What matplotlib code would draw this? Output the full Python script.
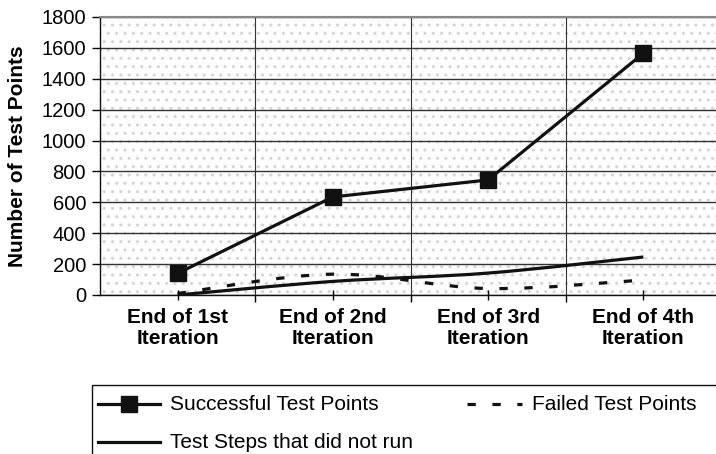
import matplotlib
matplotlib.use("Agg")
import matplotlib.pyplot as plt
import numpy as np
from matplotlib.lines import Line2D
from matplotlib.patches import PathPatch, Rectangle
from matplotlib.path import Path

plt.rcParams["font.family"] = ["Liberation Sans", "DejaVu Sans"]
plt.rcParams["hatch.linewidth"] = 1.0

# ------------------------------------------------------------------ data
categories = ["End of 1st\nIteration", "End of 2nd\nIteration",
              "End of 3rd\nIteration", "End of 4th\nIteration"]
successful = [140, 635, 745, 1565]
failed = [10, 135, 42, 97]
not_run = [0, 88, 142, 246]
y_ticks = list(range(0, 1801, 200))
series_names = ["Successful Test Points", "Failed Test Points",
                "Test Steps that did not run"]

INK = "#111111"
W, H = 716, 454


def smooth_path(xs, ys):
    # Catmull-Rom style cubic Bezier through the data points (Excel "smoothed line")
    pts = np.column_stack([xs, ys]).astype(float)
    n = len(pts)
    verts, codes = [pts[0]], [Path.MOVETO]
    for i in range(n - 1):
        p0, p1 = pts[max(i - 1, 0)], pts[i]
        p2, p3 = pts[i + 1], pts[min(i + 2, n - 1)]
        verts += [p1 + (p2 - p0) / 6, p2 - (p3 - p1) / 6, p2]
        codes += [Path.CURVE4] * 3
    return Path(verts, codes)


def fig_xy(px, py):
    return px / W, 1 - py / H


fig = plt.figure(figsize=(W / 100, H / 100), dpi=100)
ax = fig.add_axes([100 / W, 1 - 295 / H, 621 / W, 278 / H])

# dotted plot-area background
ax.add_patch(Rectangle((0, 0), 1, 1, transform=ax.transAxes, facecolor="#fdfdfd",
                       edgecolor="#d4d4d4", hatch="..", lw=0, zorder=0))

x = np.arange(len(categories))
ax.plot(x, successful, color=INK, lw=2.3, marker="s", ms=12, zorder=4)
ax.add_patch(PathPatch(smooth_path(x, not_run), fill=False, ec=INK, lw=2.3,
                       zorder=3))
ax.add_patch(PathPatch(smooth_path(x, failed), fill=False, ec=INK, lw=2.3,
                       ls=(0, (2.6, 5.2)), zorder=3))

ax.set_xlim(-0.5, 3.5)
ax.set_ylim(0, 1800)
ax.set_yticks(y_ticks)
ax.set_xticks(x)
ax.set_xticklabels(categories, fontweight="bold", fontsize=15, linespacing=1.15)
ax.set_xticks(x[:-1] + 0.5, minor=True)
ax.set_axisbelow(True)
ax.grid(axis="y", which="major", color="#333333", lw=1)
ax.grid(axis="x", which="minor", color="#333333", lw=0.8)
ax.grid(axis="x", which="major", visible=False)

ax.spines["top"].set_color("#888888")
ax.spines["top"].set_linewidth(1.5)
ax.spines["right"].set_visible(False)
for side in ("left", "bottom"):
    ax.spines[side].set_color(INK)
    ax.spines[side].set_linewidth(1)

ax.tick_params(axis="y", direction="out", length=6, width=1, labelsize=14.5, pad=4)
ax.tick_params(axis="x", which="major", direction="inout", length=7, width=1, pad=6)
ax.tick_params(axis="x", which="minor", direction="out", length=5, width=1)

ax.set_ylabel("Number of Test Points", fontsize=15, fontweight="bold")
ax.yaxis.set_label_coords(-0.118, 0.5)

# ------------------------------------------------------------------ legend box
x0, y0 = fig_xy(92, 470)
x1, y1 = fig_xy(740, 385)
fig.add_artist(Rectangle((x0, y0), x1 - x0, y1 - y0, transform=fig.transFigure,
                         fill=False, ec=INK, lw=1, clip_on=False))

rows = [(98, 160, 404, "-", True, series_names[0]),
        (467, 522, 404, (0, (2.6, 5.2)), False, series_names[1]),
        (98, 160, 442, "-", False, series_names[2])]
for xa, xb, yy, ls, mark, name in rows:
    (fa, fy), (fb, _) = fig_xy(xa, yy), fig_xy(xb, yy)
    fig.add_artist(Line2D([fa, fb], [fy, fy], transform=fig.transFigure,
                          color=INK, lw=2.3, ls=ls))
    if mark:
        fig.add_artist(Line2D([(fa + fb) / 2], [fy], transform=fig.transFigure,
                              color=INK, marker="s", ms=11, ls="none"))
    fig.text(fb + 10 / W, fy, name, va="center", ha="left", fontsize=15)

fig.savefig("out.png", dpi=100)
